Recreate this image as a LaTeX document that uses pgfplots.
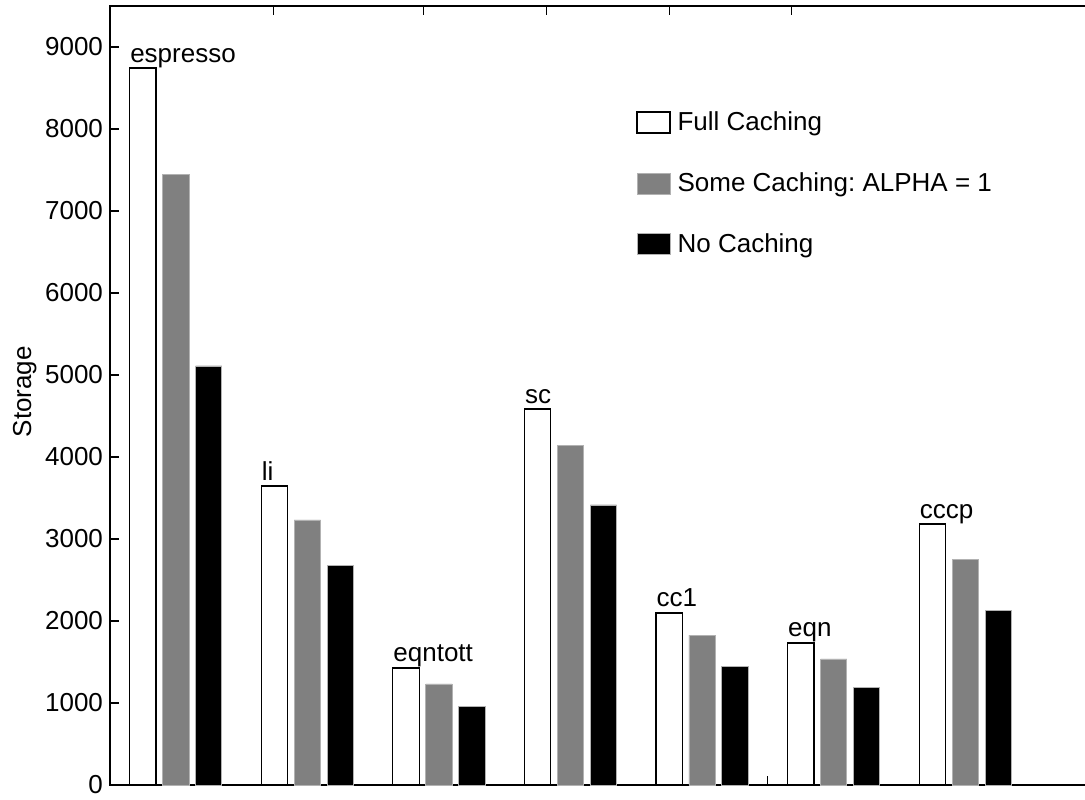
\documentclass[border=0pt]{standalone}
\usepackage{fontspec}
\setmainfont{Liberation Sans}
\usepackage{pgfplots}
\pgfplotsset{compat=1.18}
\usepackage{pgfplotstable}

\pgfplotstableread{
x y label
1 8744 espresso
2 3646 li
3 1427 eqntott
4 4585 sc
5 2098 cc1
6 1732 eqn
7 3183 cccp
}\fulltab
\pgfplotstableread{
x y
1 7451
2 3232
3 1232
4 4146
5 1829
6 1537
7 2756
}\sometab
\pgfplotstableread{
x y
1 5110
2 2683
3 963
4 3415
5 1451
6 1195
7 2134
}\notab

\pgfplotsset{mylegend/.style={legend image code/.code={\draw[##1] (0pt,-5.25pt) rectangle (16.5pt,5.25pt);}}}

\begin{document}
\frenchspacing
\begin{tikzpicture}
\begin{axis}[
  scale only axis, width=500pt, height=389.5pt,
  xmin=0.5, xmax=8.1, ymin=0, ymax=9500,
  font=\fontsize{13}{15.6}\selectfont,
  /pgf/number format/assume math mode=true,
  ytick={0,1000,...,9000}, ytick pos=left,
  yticklabel style={/pgf/number format/1000 sep={}},
  scaled y ticks=false,
  tick align=inside, major tick length=4.5pt,
  xtick={1.74,2.88,3.82,4.75,5.68}, xticklabels={}, xtick pos=right,
  extra x ticks={5.5}, extra x tick labels={}, extra x tick style={xtick pos=left},
  bar width=0.2,
  axis line style={line width=0.8pt},
  tick style={line width=0.6pt, black},
  ylabel={Storage},
  every axis y label/.style={at={(rel axis cs:-0.073,0.505)}, rotate=90, anchor=south, inner sep=0pt},
  legend style={at={(axis description cs:0.526,0.8652)}, anchor=north west, draw=none, fill=none,
    inner sep=0pt, row sep=19.5pt, column sep=3.5pt, nodes={inner sep=0pt},
    font=\fontsize{13}{15.6}\selectfont},
  legend cell align=left,
]
\addplot[ybar, bar shift=-0.25, fill=white, draw=black, line width=0.6pt, mylegend,
  nodes near coords, point meta=explicit symbolic,
  nodes near coords style={anchor=base west, xshift=-23.05pt, yshift=3pt, inner sep=0pt, text=black}]
  table[x=x, y=y, meta=label]{\fulltab};
\addlegendentry{Full Caching}
\addplot[ybar, bar shift=0, fill=black!50, draw=black!30, line width=0.4pt, mylegend]
  table[x=x, y=y]{\sometab};
\addlegendentry{Some Caching: ALPHA = 1}
\addplot[ybar, bar shift=0.25, fill=black, draw=black!30, line width=0.4pt, mylegend]
  table[x=x, y=y]{\notab};
\addlegendentry{No Caching}
\end{axis}
\pgfresetboundingbox
\path (current axis.south west) ++(-55pt,-7pt) rectangle ++(542.5pt,399.5pt);
\end{tikzpicture}
\end{document}
